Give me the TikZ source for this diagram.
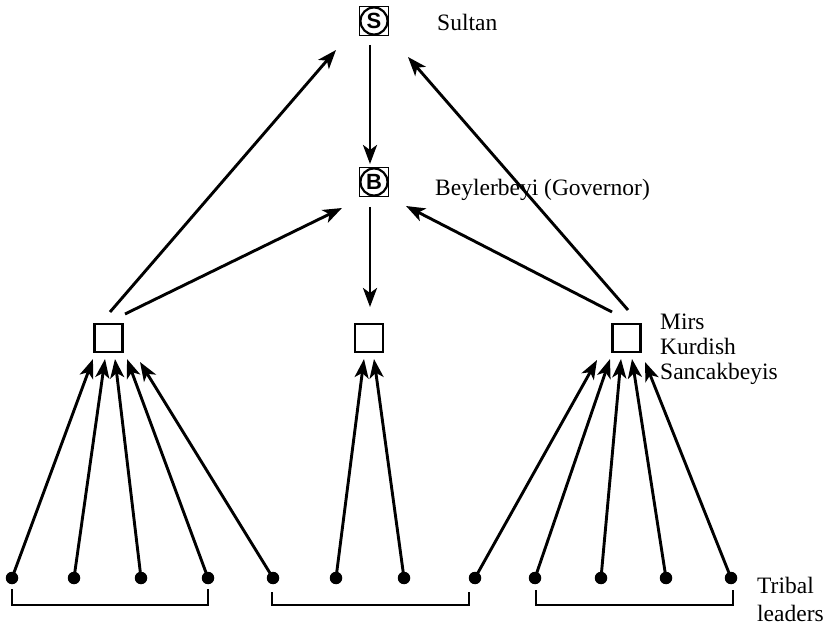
\documentclass[tikz,border=0pt]{standalone}
\usepackage{fontspec}
\setmainfont{Liberation Serif}
\newfontfamily\lettersf{Liberation Sans}
\usetikzlibrary{arrows.meta}
\begin{document}
\begin{tikzpicture}[x=1pt,y=-1pt,
  arr/.style={line width=2.9pt,-{Stealth[length=19pt,width=14pt,inset=5pt]}},
  sq/.style={draw,line width=2.4pt,minimum size=28pt,inner sep=0pt},
  rsq/.style={draw,line width=1.9pt,minimum size=29pt,inner sep=0pt},
  circ/.style={circle,draw,line width=2.2pt,minimum size=27pt,inner sep=0pt,font=\lettersf\bfseries\fontsize{22}{22}\selectfont},
  dot/.style={circle,fill,inner sep=0pt,minimum size=12.5pt},
  lbl/.style={anchor=base west,font=\fontsize{23.5}{26}\selectfont,inner sep=0pt},
  brk/.style={line width=2.8pt}]
\useasboundingbox (0,0) rectangle (831,628);
% top rank boxes
\node[rsq] (S) at (374,21) {};
\node[circ] (Sc) at (374,21) {S};
\node[rsq] (B) at (374,182) {};
\node[circ] (Bc) at (374,182) {B};
% Mir squares
\node[sq] (L) at (108.5,338) {};
\node[sq] (M) at (369,338) {};
\node[sq] (R) at (626.5,338) {};
% labels
\node[lbl] (tS) at (437,31) {Sultan};
\node[lbl] (tB) at (435,196) {Beylerbeyi (Governor)};
\node[lbl] (tM1) at (660,330) {Mirs};
\node[lbl] (tM2) at (660,355) {Kurdish};
\node[lbl] (tM3) at (660,380) {Sancakbeyis};
\node[lbl] (tT1) at (757,593) {Tribal};
\node[lbl] (tT2) at (757,621) {leaders};
% tribal dots
\foreach \i/\x in {1/12,2/74,3/141,4/208,5/273,6/336,7/404,8/475,9/535,10/601,11/666,12/731}
  \node[dot] (d\i) at (\x,578) {};
% arrow end coordinates
\coordinate (a1) at (93,359);
\coordinate (a2) at (105,359);
\coordinate (a3) at (115,359);
\coordinate (a4) at (127,359);
\coordinate (a5) at (140,362);
\coordinate (a6) at (364,359);
\coordinate (a7) at (374,359);
\coordinate (a8) at (597,360);
\coordinate (a9) at (610,359);
\coordinate (a10) at (621,359);
\coordinate (a11) at (632,359);
\coordinate (a12) at (645,362);
\foreach \i in {1,...,12}
  \draw[arr] (d\i.center) -- (a\i);
% upper connectors
\coordinate (Ls1) at (110,312);
\coordinate (Ls2) at (125,314);
\coordinate (Rs1) at (628,310);
\coordinate (Rs2) at (612,312);
\coordinate (St1) at (336,50);
\coordinate (Bt1) at (342,208);
\coordinate (St2) at (408,57);
\coordinate (Bt2) at (406,206);
\coordinate (Sb) at (370,45);
\coordinate (Btop) at (370,164);
\coordinate (Bb) at (370,207);
\coordinate (Mt) at (370,307);
\draw[arr] (Ls1) -- (St1);
\draw[arr] (Ls2) -- (Bt1);
\draw[arr] (Rs1) -- (St2);
\draw[arr] (Rs2) -- (Bt2);
\draw[arr] (Sb) -- (Btop);
\draw[arr] (Bb) -- (Mt);
% brackets
\draw[brk] (12,589) -- (12,605) -- (208,605) -- (208,589);
\draw[brk] (272,592) -- (272,605) -- (469,605) -- (469,592);
\draw[brk] (536,590) -- (536,605) -- (733,605) -- (733,590);
\end{tikzpicture}
\end{document}
